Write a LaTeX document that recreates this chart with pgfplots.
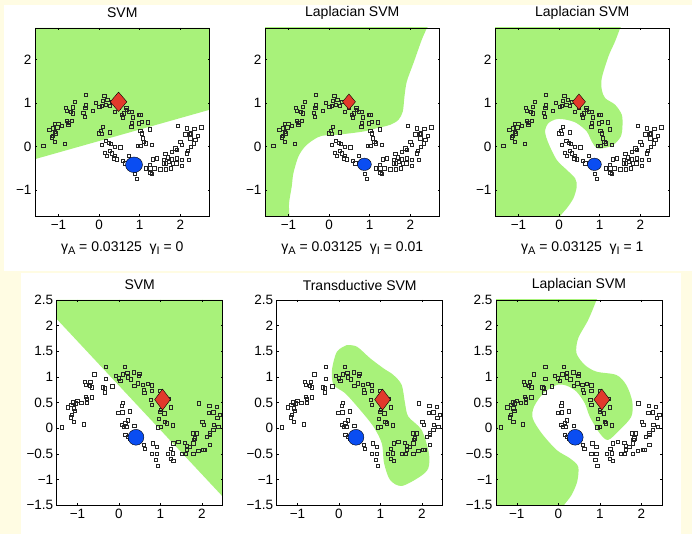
\documentclass[border=0pt]{standalone}
\usepackage{pgfplots}
\usepackage{pgfplotstable}
\usepackage{fontspec}
\setmainfont{Liberation Sans}
\pgfplotsset{compat=1.18}
\definecolor{cream}{HTML}{FFFCE3}
\definecolor{grn}{HTML}{A8F27A}
\definecolor{redm}{HTML}{E23A2C}
\definecolor{blum}{HTML}{0A4DF2}
\pgfplotstableread{
x y
-1.372 0.015
-1.224 0.392
-1.142 0.423
-1.085 0.523
-1.002 0.523
-0.920 0.477
-1.027 0.446
-1.085 0.346
-1.060 0.308
-1.142 0.246
-1.167 0.215
-1.085 0.115
-0.838 0.069
-0.813 0.9
-0.797 0.831
-0.649 0.908
-0.698 0.808
-0.649 0.769
-0.592 1.038
-0.797 0.6
-0.756 0.554
-0.674 0.6
-0.756 0.5
-0.320 1.185
-0.320 0.954
-0.337 0.885
-0.386 0.785
-0.345 0.692
-0.156 0.823
-0.082 1.015
0.008 0.923
0.066 0.938
0.131 1.177
0.205 1.077
0.09 1.054
0.173 0.962
0.271 0.938
0.32 1.038
0.394 0.808
0.477 0.885
0.559 0.731
0.6 0.769
0.666 0.885
0.682 0.846
0.723 0.808
0.583 0.677
0.805 0.808
0.83 0.677
0.97 0.731
1.011 0.731
0.805 0.554
0.789 0.462
0.97 0.538
1.052 0.577
1.2 0.562
1.011 0.369
1.052 0.308
1.241 0.4
1.068 0.192
0.945 0.023
1.011 0.015
1.109 0.115
1.142 0.077
1.298 0.046
0.041 0.369
0.09 0.462
-0.016 0.308
0.066 0.292
0.271 0.331
0.066 0.046
0.173 0.138
0.23 0.092
0.288 0.062
0.148 -0.138
0.189 -0.208
0.271 -0.092
0.312 -0.154
0.394 0
0.518 -0.015
0.394 -0.215
0.435 -0.292
0.37 -0.269
0.583 -0.331
0.641 -0.385
0.723 -0.215
0.887 -0.631
0.929 -0.746
1.15 -0.5
1.241 -0.423
1.257 -0.5
1.356 -0.5
1.257 -0.6
1.323 -0.292
1.422 -0.269
1.298 -0.631
1.504 -0.523
1.643 -0.523
1.586 -0.308
1.643 -0.385
1.627 -0.169
1.791 -0.115
1.791 -0.292
1.873 -0.038
1.915 -0.077
1.997 0.115
2.038 0.038
1.931 0.477
2.161 0.423
2.342 0.408
2.514 0.446
2.12 0.285
2.227 0.292
2.26 0.308
2.424 0.254
2.161 -0.154
2.177 -0.092
2.26 0
2.325 0.077
2.366 0.154
2.243 0.192
2.038 -0.308
2.038 -0.438
1.816 -0.385
1.709 -0.346
1.915 -0.269
2.202 -0.308
1.767 -0.5
1.898 -0.385
1.693 -0.246
1.586 -0.385
}\toppts
\pgfplotstableread{
x y
-1.384 0.019
-1.232 0.409
-1.152 0.455
-1.104 0.506
-1.008 0.532
-0.912 0.5
-1.048 0.487
-1.088 0.39
-1.064 0.338
-1.144 0.26
-1.168 0.214
-1.088 0.13
-0.848 0.078
-0.824 0.909
-0.808 0.844
-0.688 0.909
-0.712 0.825
-0.648 0.799
-0.592 1.052
-0.808 0.617
-0.784 0.565
-0.648 0.604
-0.784 0.506
-0.312 1.195
-0.312 0.961
-0.344 0.779
-0.384 0.799
-0.336 0.701
-0.16 0.818
-0.08 1.019
-0.008 0.974
0.032 0.929
0.136 1.195
0.2 1.084
0.096 1.052
0.208 0.994
0.288 0.955
0.36 1.091
0.368 0.825
0.456 0.877
0.488 1.058
0.48 1.019
0.576 0.844
0.688 0.864
0.792 0.838
0.592 0.747
0.608 0.695
0.792 0.734
0.992 0.734
0.992 0.63
1.208 0.578
0.792 0.455
0.768 0.552
1.008 0.357
0.992 0.325
1.088 0.292
1.248 0.409
0.952 0.182
0.936 0.019
1.008 0.032
1.112 0.13
1.152 0.097
1.296 0.058
0.976 0.584
0.072 0.435
0.088 0.5
-0.016 0.305
0.08 0.312
0.256 0.331
0.208 0.156
0.152 0.11
0.072 0.065
0.112 0.032
0.176 0.032
0.368 0.052
0.152 -0.13
0.208 -0.162
0.256 -0.208
0.392 -0.097
0.472 -0.227
0.592 -0.325
0.624 -0.403
0.792 -0.5
0.816 -0.292
0.912 -0.357
0.912 -0.5
0.888 -0.617
0.936 -0.734
1.168 -0.5
1.288 -0.487
1.256 -0.403
1.312 -0.292
1.432 -0.26
1.248 -0.597
1.312 -0.63
1.512 -0.5
1.592 -0.279
1.632 -0.338
1.632 -0.422
1.776 -0.097
1.808 -0.227
1.792 -0.5
1.928 0.487
2.176 0.435
2.352 0.416
2.432 0.26
2.168 0.305
2.272 0.312
2.368 0.208
2.008 0.13
2.048 0.065
2.112 -0.162
2.192 -0.325
2.192 -0.097
2.272 -0.032
2.288 0.065
2.392 0.032
1.912 -0.435
2.072 -0.422
1.792 -0.292
1.608 -0.5
1.832 -0.195
1.872 -0.097
1.712 -0.357
2.032 -0.422
2.192 -0.13
}\botpts
\pgfplotsset{
 every axis title shift=0pt,
 base/.style={scale only axis, axis on top, axis line style={line width=0.7pt,black},
  tick style={line width=0.4pt,black}, tick align=inside, tickwidth=2pt,
  ticklabel style={font=\fontsize{13.5}{15}\selectfont},
  xticklabel style={yshift=-0.5pt},
  title style={at={(0.5,1)},anchor=center,yshift=15pt,font=\fontsize{14}{16}\selectfont},
  xlabel style={at={(0.5,0)},anchor=center,yshift=-32pt,font=\fontsize{14}{16}\selectfont},
  xtick={-1,0,1,2}, xticklabels={−1,0,1,2}},
 toprow/.style={base,width=174.5pt,height=188pt,xmin=-1.578,xmax=2.72,ymin=-1.6,ymax=2.73,
  ytick={-1,0,1,2}, yticklabels={−1,0,1,2}},
 botrow/.style={base,width=166pt,height=205.3pt,xmin=-1.5,xmax=2.5,ymin=-1.5,ymax=2.5,
  ytick={-1.5,-1,-0.5,0,0.5,1,1.5,2,2.5},
  yticklabels={−1.5,−1,−0.5,0,0.5,1,1.5,2,2.5}},
 pts/.style={only marks,mark=square,mark size=1.65pt,mark options={draw=black!85,line width=0.5pt,fill=none}},
 region/.style={draw=none,fill=grn,mark=none},
 curved/.style={region,smooth,tension=0.5},
}
\newcommand{\gA}{γ\raisebox{-0.45ex}{\fontsize{11}{11}\selectfont A}}
\newcommand{\gI}{γ\raisebox{-0.45ex}{\fontsize{11}{11}\selectfont I}}
\begin{document}
\begin{tikzpicture}[x=1pt,y=1pt]
\fill[cream] (0,0) rectangle (692,534);
\fill[white] (4,263) rectangle (692,529);
\fill[white] (21,0) rectangle (681,261);

% ---------- top row ----------
\begin{axis}[toprow,at={(35pt,318pt)},anchor=south west,title={SVM},
 xlabel={\gA{} = 0.03125\ \ \gI{} = 0}]
\addplot[region] coordinates {(-1.578,-0.29)(2.72,0.846)(2.72,2.73)(-1.578,2.73)} --cycle;
\addplot[pts] table {\toppts};
\addplot[only marks,mark=diamond*,mark size=9.7pt,mark options={xscale=1.14,fill=redm,draw=black,line width=0.4pt}] coordinates {(0.48,1.03)};
\addplot[only marks,mark=*,mark size=7.8pt,mark options={xscale=1.09,fill=blum,draw=black,line width=0.4pt}] coordinates {(0.86,-0.42)};
\end{axis}

\begin{axis}[toprow,at={(265pt,318pt)},anchor=south west,title={Laplacian SVM},
 xlabel={\gA{} = 0.03125\ \ \gI{} = 0.01}]
\addplot[curved] coordinates {(-3,-2.6)(-0.97,-2.0)(-0.978,-1.6)(-0.986,-1.308)(-0.92,-0.923)(-0.879,-0.615)(-0.756,-0.231)(-0.592,0)(-0.386,0.154)(-0.181,0.246)(0.189,0.269)(0.846,0.346)(1.175,0.423)(1.504,0.5)(1.709,0.615)(1.816,0.808)(1.857,1.154)(1.915,1.5)(2.079,1.923)(2.284,2.462)(2.408,2.73)(2.55,3.1)(-3,3.4)(-3.4,0)(-3,-2.6)};
\addplot[pts] table {\toppts};
\addplot[only marks,mark=diamond*,mark size=7.8pt,mark options={xscale=1.11,fill=redm,draw=black,line width=0.4pt}] coordinates {(0.49,1.03)};
\addplot[only marks,mark=*,mark size=6.2pt,mark options={xscale=1.12,fill=blum,draw=black,line width=0.4pt}] coordinates {(0.87,-0.41)};
\end{axis}

\begin{axis}[toprow,at={(495pt,318pt)},anchor=south west,title={Laplacian SVM},
 xlabel={\gA{} = 0.03125\ \ \gI{} = 1}]
\addplot[curved] coordinates {(-3,3.4)(1.65,3.1)(1.504,2.73)(1.38,2.423)(1.216,2.077)(1.052,1.577)(1.052,1.308)(1.134,1.115)(1.38,0.962)(1.545,0.731)(1.561,0.462)(1.52,0.231)(1.339,0.038)(1.093,-0.038)(0.929,-0.038)(0.805,0.115)(0.682,0.346)(0.435,0.538)(0.189,0.615)(-0.058,0.631)(-0.263,0.538)(-0.345,0.346)(-0.263,0.077)(-0.058,-0.308)(0.189,-0.538)(0.394,-0.731)(0.435,-0.923)(0.353,-1.192)(0.189,-1.423)(0.025,-1.6)(-0.2,-1.9)(-3,-2.6)(-3.4,0)(-3,3.4)};
\addplot[pts] table {\toppts};
\addplot[only marks,mark=diamond*,mark size=7.8pt,mark options={xscale=1.11,fill=redm,draw=black,line width=0.4pt}] coordinates {(0.49,1.03)};
\addplot[only marks,mark=*,mark size=6.2pt,mark options={xscale=1.12,fill=blum,draw=black,line width=0.4pt}] coordinates {(0.87,-0.41)};
\end{axis}

% ---------- bottom row ----------
\begin{axis}[botrow,at={(56.7pt,28.7pt)},anchor=south west,title={SVM}]
\addplot[region] coordinates {(-1.5,2.13)(2.5,-1.33)(2.5,2.5)(-1.5,2.5)} --cycle;
\addplot[pts] table {\botpts};
\addplot[only marks,mark=diamond*,mark size=10.5pt,mark options={fill=redm,draw=black,line width=0.4pt}] coordinates {(1.05,0.56)};
\addplot[only marks,mark=*,mark size=7.9pt,mark options={fill=blum,draw=black,line width=0.4pt}] coordinates {(0.41,-0.175)};
\end{axis}

\begin{axis}[botrow,at={(276.7pt,28.7pt)},anchor=south west,title={Transductive SVM}]
\addplot[curved] coordinates {(0.192,1.623)(0.432,1.591)(0.752,1.364)(1.072,1.169)(1.312,1.039)(1.512,0.844)(1.592,0.487)(1.672,0.227)(1.992,-0.032)(2.168,-0.487)(2.152,-0.779)(1.952,-0.942)(1.512,-1.123)(1.232,-1.006)(1.088,-0.682)(1.032,-0.292)(0.832,0.032)(0.512,0.357)(0.152,0.682)(-0.128,0.844)(-0.168,1.136)(-0.048,1.494)(0.192,1.623)};
\addplot[pts] table {\botpts};
\addplot[only marks,mark=diamond*,mark size=10.5pt,mark options={fill=redm,draw=black,line width=0.4pt}] coordinates {(1.05,0.56)};
\addplot[only marks,mark=*,mark size=7.9pt,mark options={fill=blum,draw=black,line width=0.4pt}] coordinates {(0.41,-0.175)};
\end{axis}

\begin{axis}[botrow,at={(496pt,28.7pt)},anchor=south west,title={Laplacian SVM}]
\addplot[curved] coordinates {(-3,3.4)(1.05,2.85)(0.92,2.5)(0.72,2.11)(0.48,1.753)(0.44,1.461)(0.64,1.234)(0.92,1.104)(1.4,1.039)(1.64,0.844)(1.784,0.519)(1.76,0.227)(1.48,-0.032)(1.2,-0.227)(1.0,-0.097)(0.76,0.227)(0.64,0.487)(0.44,0.714)(0.2,0.831)(-0.04,0.844)(-0.36,0.682)(-0.584,0.422)(-0.616,0.195)(-0.4,-0.097)(-0.04,-0.422)(0.28,-0.584)(0.48,-0.747)(0.456,-1.039)(0.32,-1.299)(0.136,-1.5)(-0.1,-1.8)(-3,-2.6)(-3.4,0)(-3,3.4)};
\addplot[pts] table {\botpts};
\addplot[only marks,mark=diamond*,mark size=10.5pt,mark options={fill=redm,draw=black,line width=0.4pt}] coordinates {(1.05,0.56)};
\addplot[only marks,mark=*,mark size=7.9pt,mark options={fill=blum,draw=black,line width=0.4pt}] coordinates {(0.41,-0.175)};
\end{axis}
\end{tikzpicture}
\end{document}
